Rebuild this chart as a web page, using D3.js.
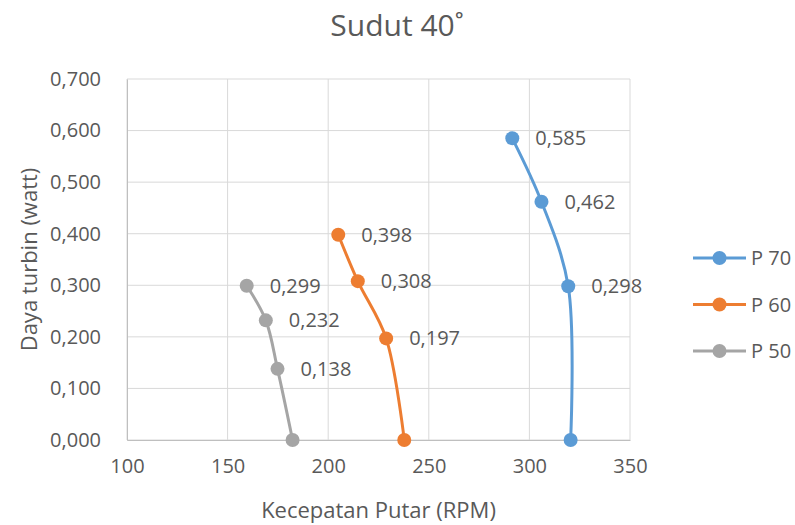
<!DOCTYPE html>
<html>
<head>
<meta charset="utf-8">
<script src="https://cdn.jsdelivr.net/npm/d3@7"></script>
<style>
  html, body { margin: 0; padding: 0; background: #fff; }
  svg { display: block; font-family: "Open Sans", "Noto Sans", sans-serif; }
</style>
</head>
<body>
<svg id="chart" width="795" height="525"></svg>
<script>
// Rotational speed (RPM) and turbine power (watt) for each pressure series
const seriesNames = ["P 70", "P 60", "P 50"];
const rpmP70 = [320.5, 319.3, 306, 291.5];
const powerP70 = [0, 0.298, 0.462, 0.585];
const rpmP60 = [237.8, 228.8, 214.7, 205];
const powerP60 = [0, 0.197, 0.308, 0.398];
const rpmP50 = [182.3, 174.8, 169, 159.5];
const powerP50 = [0, 0.138, 0.232, 0.299];
const xTicks = [100, 150, 200, 250, 300, 350];
const yTicks = [0, 0.1, 0.2, 0.3, 0.4, 0.5, 0.6, 0.7];
const colors = ["#5B9BD5", "#ED7D31", "#A5A5A5"];

const series = [
  { name: seriesNames[0], x: rpmP70, y: powerP70, color: colors[0] },
  { name: seriesNames[1], x: rpmP60, y: powerP60, color: colors[1] },
  { name: seriesNames[2], x: rpmP50, y: powerP50, color: colors[2] }
];

const locale = d3.formatLocale({ decimal: ",", thousands: ".", grouping: [3], currency: ["", ""] });
const fmt3 = locale.format(".3f");

const svg = d3.select("#chart");
const textColor = "#595959";

const x = d3.scaleLinear().domain([100, 350]).range([127, 630]);
const y = d3.scaleLinear().domain([0, 0.7]).range([440, 79]);

// Gridlines
const grid = svg.append("g");
grid.selectAll("line.h").data(yTicks).join("line")
  .attr("x1", x(100)).attr("x2", x(350))
  .attr("y1", d => y(d)).attr("y2", d => y(d))
  .attr("stroke", "#D9D9D9").attr("stroke-width", 1);
grid.selectAll("line.v").data(xTicks).join("line")
  .attr("y1", y(0)).attr("y2", y(0.7))
  .attr("x1", d => x(d)).attr("x2", d => x(d))
  .attr("stroke", "#D9D9D9").attr("stroke-width", 1);

// Axes
const yAxis = svg.append("g").attr("transform", `translate(${x(100)},0)`)
  .call(d3.axisLeft(y).tickValues(yTicks).tickFormat(fmt3).tickSize(0).tickPadding(26));
const xAxis = svg.append("g").attr("transform", `translate(0,${y(0)})`)
  .call(d3.axisBottom(x).tickValues(xTicks).tickSize(0).tickPadding(19));
[yAxis, xAxis].forEach(a => {
  a.select(".domain").attr("stroke", "#BFBFBF").attr("stroke-width", 1);
  a.selectAll("text").attr("fill", textColor).style("font-size", "20px")
    .style("font-family", "'Open Sans', sans-serif");
});

// Series lines, markers and value labels
const line = d3.line().x(d => x(d[0])).y(d => y(d[1])).curve(d3.curveCatmullRom.alpha(0.5));
series.forEach(s => {
  const pts = s.x.map((v, i) => [v, s.y[i]]);
  const g = svg.append("g");
  g.append("path").datum(pts).attr("d", line)
    .attr("fill", "none").attr("stroke", s.color).attr("stroke-width", 3)
    .attr("stroke-linecap", "round");
  g.selectAll("circle").data(pts).join("circle")
    .attr("cx", d => x(d[0])).attr("cy", d => y(d[1])).attr("r", 7)
    .attr("fill", s.color);
  g.selectAll("text").data(pts.filter(d => d[1] > 0)).join("text")
    .attr("x", d => x(d[0]) + 23).attr("y", d => y(d[1]))
    .attr("dy", "0.35em").attr("fill", textColor).style("font-size", "20px")
    .text(d => fmt3(d[1]));
});

// Title
svg.append("text").attr("x", 397).attr("y", 36)
  .attr("text-anchor", "middle").attr("fill", textColor).style("font-size", "30px")
  .text("Sudut 40\u02DA");

// Axis titles
svg.append("text").attr("x", x(225)).attr("y", 518)
  .attr("text-anchor", "middle").attr("fill", textColor).style("font-size", "22px")
  .text("Kecepatan Putar (RPM)");
svg.append("text").attr("transform", `translate(37,${y(0.35)}) rotate(-90)`)
  .attr("text-anchor", "middle").attr("fill", textColor).style("font-size", "22px")
  .text("Daya turbin (watt)");

// Legend
const legend = svg.append("g");
series.forEach((s, i) => {
  const ly = 258 + i * 46.5;
  legend.append("line").attr("x1", 693).attr("x2", 746).attr("y1", ly).attr("y2", ly)
    .attr("stroke", s.color).attr("stroke-width", 3);
  legend.append("circle").attr("cx", 719.5).attr("cy", ly).attr("r", 7).attr("fill", s.color);
  legend.append("text").attr("x", 751).attr("y", ly).attr("dy", "0.35em")
    .attr("fill", textColor).style("font-size", "20px").text(s.name);
});
</script>
</body>
</html>
